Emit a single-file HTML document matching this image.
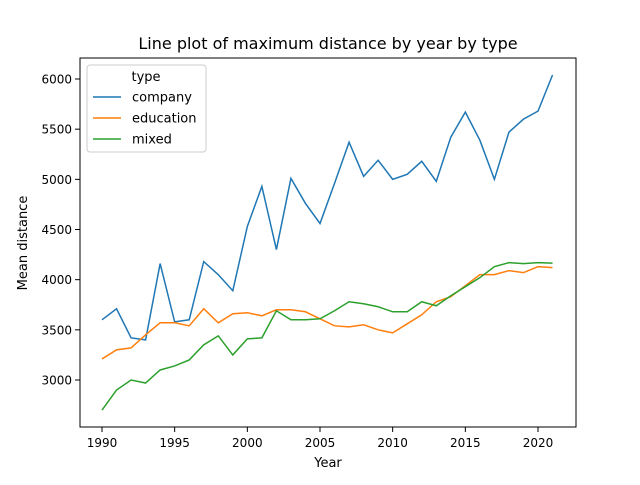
<!DOCTYPE html>
<html><head><meta charset="utf-8"><style>
body{margin:0;background:#fff;font-family:"Liberation Sans","DejaVu Sans",sans-serif;}
svg text{font-family:"DejaVu Sans","Liberation Sans",sans-serif;}
</style></head><body>
<svg id="chart" width="640" height="480" xmlns="http://www.w3.org/2000/svg">
<rect width="640" height="480" fill="#fff"/>
<text x="328" y="49" font-size="16" text-anchor="middle">Line plot of maximum distance by year by type</text>
<g id="grid"></g>
<g id="series"></g>
<rect x="80" y="58" width="496" height="369" fill="none" stroke="#000" stroke-width="1"/>
<text x="328" y="467" font-size="13" text-anchor="middle">Year</text>
<text x="27" y="243" font-size="13" text-anchor="middle" transform="rotate(-90 27 243)">Mean distance</text>
<g>
<rect x="87" y="65" width="119" height="87" rx="3" fill="#fff" fill-opacity="0.8" stroke="#ccc"/>
<text x="146" y="81" font-size="13" text-anchor="middle">type</text>
<g id="legend-entries"></g>
</g>
</svg>
<script>
const years = [];
for (let y = 1990; y <= 2021; y++) years.push(y);
const company = [3600,3710,3420,3400,4160,3580,3600,4180,4050,3890,4530,4930,4300,5010,4760,4560,4960,5370,5030,5190,5000,5050,5180,4980,5420,5670,5390,5000,5470,5600,5680,6040];
const education = [3210,3300,3320,3450,3570,3570,3540,3710,3570,3660,3670,3640,3700,3700,3680,3610,3540,3530,3550,3500,3470,3560,3650,3780,3830,3940,4050,4050,4090,4070,4130,4120];
const mixed = [2700,2900,3000,2970,3100,3140,3200,3350,3440,3250,3410,3420,3690,3600,3600,3610,3690,3780,3760,3730,3680,3680,3780,3740,3840,3930,4020,4130,4170,4160,4170,4165];
const seriesNames = ["company","education","mixed"];
const xTicks = [1990,1995,2000,2005,2010,2015,2020];
const yTicks = [3000,3500,4000,4500,5000,5500,6000];

const NS = "http://www.w3.org/2000/svg";
const xs = v => 102 + (v - 1990) * (436 / 30);
const ys = v => 380 - (v - 3000) * (301 / 3000);
const colors = ["#1f77b4","#ff7f0e","#2ca02c"];
const data = [company, education, mixed];

const grid = document.getElementById("grid");
xTicks.forEach(t => {
  const l = document.createElementNS(NS,"line");
  l.setAttribute("x1",xs(t));l.setAttribute("x2",xs(t));l.setAttribute("y1",427);l.setAttribute("y2",432);l.setAttribute("stroke","#000");
  
  
  grid.appendChild(l);
  const tx = document.createElementNS(NS,"text");
  tx.setAttribute("x",xs(t));tx.setAttribute("y",447);tx.setAttribute("font-size","12");tx.setAttribute("text-anchor","middle");
  tx.textContent = t;
  
  
  grid.appendChild(tx);
});
yTicks.forEach(t => {
  const l = document.createElementNS(NS,"line");
  l.setAttribute("x1",75);l.setAttribute("x2",80);l.setAttribute("y1",ys(t));l.setAttribute("y2",ys(t));l.setAttribute("stroke","#000");
  
  
  grid.appendChild(l);
  const tx = document.createElementNS(NS,"text");
  tx.setAttribute("x",72);tx.setAttribute("y",ys(t)+4.5);tx.setAttribute("font-size","12");tx.setAttribute("text-anchor","end");
  tx.textContent = t;
  
  
  grid.appendChild(tx);
});

const sg = document.getElementById("series");
data.forEach((arr, i) => {
  const p = document.createElementNS(NS,"polyline");
  p.setAttribute("points", arr.map((v,j)=>xs(years[j])+","+ys(v)).join(" "));
  p.setAttribute("fill","none");p.setAttribute("stroke",colors[i]);p.setAttribute("stroke-width","1.5");
  
  
  sg.appendChild(p);
});

const lg = document.getElementById("legend-entries");
seriesNames.forEach((n,i) => {
  const y = 97 + i * 21;
  const l = document.createElementNS(NS,"line");
  l.setAttribute("x1",93);l.setAttribute("x2",121);l.setAttribute("y1",y);l.setAttribute("y2",y);
  l.setAttribute("stroke",colors[i]);l.setAttribute("stroke-width","1.5");
  
  
  lg.appendChild(l);
  const tx = document.createElementNS(NS,"text");
  tx.setAttribute("x",132);tx.setAttribute("y",y+4.5);tx.setAttribute("font-size","13");
  tx.textContent = n;
  
  
  lg.appendChild(tx);
});
</script>
</body></html>
